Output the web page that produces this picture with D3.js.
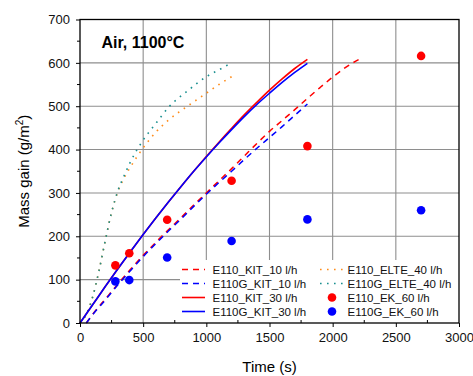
<!DOCTYPE html>
<meta charset="utf-8">
<style>
body { margin: 0; background: #fff; }
text { font-family: "Liberation Sans", Arial, sans-serif; }
</style>
<body>
<script src="https://cdn.jsdelivr.net/npm/d3@7"></script>
<script>
// --- data ---
var kit10Time   = [50, 100, 200, 300, 400, 500, 600, 700, 800, 900, 1000, 1100, 1200, 1300, 1400, 1500, 1600, 1700, 1800, 1900, 2000, 2100, 2220];
var e110Kit10   = [0, 20, 55, 90, 124, 156, 186, 215, 243, 272, 300, 328, 356, 385, 414, 442, 467, 492, 518, 543, 567, 589, 610];
var kit10GTime  = [50, 100, 200, 300, 400, 500, 600, 700, 800, 900, 1000, 1100, 1200, 1300, 1400, 1500, 1600, 1700, 1800];
var e110gKit10  = [0, 19, 53, 88, 121, 153, 183, 212, 240, 269, 297, 324, 350, 377, 403, 428, 453, 479, 505];

var kit30Time   = [0, 100, 200, 300, 400, 500, 600, 700, 800, 900, 1000, 1100, 1200, 1300, 1400, 1500, 1600, 1700, 1800];
var e110Kit30   = [0, 42, 84, 125, 165, 204, 242, 279, 315, 350, 384, 417, 449, 480, 509, 537, 563, 587, 608];
var e110gKit30  = [0, 42, 84, 125, 165, 204, 242, 279, 315, 350, 383, 415, 446, 476, 504, 530, 555, 578, 599];

var elteTime    = [0, 50, 100, 150, 200, 250, 300, 350, 400, 500, 600, 700, 850, 1000, 1100, 1200];
var e110Elte    = [0, 20, 60, 120, 190, 255, 303, 335, 360, 404, 440, 468, 500, 530, 550, 568];
var e110gElte   = [0, 20, 60, 120, 190, 255, 305, 340, 372, 422, 460, 497, 535, 568, 584, 600];

var ekTime      = [280, 390, 690, 1200, 1800, 2700];
var e110Ek      = [133, 161, 238, 328, 408, 616];
var e110gEk     = [96, 99, 151, 189, 239, 260];

var xTicks = [0, 500, 1000, 1500, 2000, 2500, 3000];
var yTicks = [0, 100, 200, 300, 400, 500, 600, 700];

var width = 473, height = 376;
var margin = {left: 80, right: 14, top: 19.5, bottom: 53};

var svg = d3.select("body").append("svg")
    .attr("width", width)
    .attr("height", height);

var x = d3.scaleLinear().domain([0, 3000]).range([margin.left, width - margin.right]);
var y = d3.scaleLinear().domain([0, 700]).range([height - margin.bottom, margin.top]);

// grid
svg.append("g").selectAll("line.vx")
    .data(xTicks.slice(1, -1)).enter().append("line")
    .attr("x1", d => x(d)).attr("x2", d => x(d))
    .attr("y1", y(0)).attr("y2", y(700))
    .attr("stroke", "#8e8e8e").attr("stroke-width", 1.1);
svg.append("g").selectAll("line.hy")
    .data(yTicks.slice(1, -1)).enter().append("line")
    .attr("x1", x(0)).attr("x2", x(3000))
    .attr("y1", d => y(d)).attr("y2", d => y(d))
    .attr("stroke", "#8e8e8e").attr("stroke-width", 1.1);

var line = d3.line().curve(d3.curveMonotoneX);
function pts(t, v) { return t.map((d, i) => [x(d), y(v[i])]); }

var g = svg.append("g");

function drawLine(t, v, color, dash, w) {
  g.append("path")
    .attr("d", line(pts(t, v)))
    .attr("fill", "none")
    .attr("stroke", color)
    .attr("stroke-width", w)
    .attr("stroke-dasharray", dash);
}

drawLine(elteTime, e110Elte, "#ff8c1a", "1.6,5.4", 1.6);
drawLine(elteTime, e110gElte, "#1a9090", "1.6,5.4", 1.6);
drawLine(kit10Time, e110Kit10, "#ff0000", "6,5", 1.5);
drawLine(kit10GTime, e110gKit10, "#0000ff", "6,5", 1.5);
drawLine(kit30Time, e110Kit30, "#ff0000", null, 1.6);
drawLine(kit30Time, e110gKit30, "#0000ff", null, 1.6);

g.selectAll("circle.r").data(ekTime).enter().append("circle")
  .attr("cx", d => x(d)).attr("cy", (d, i) => y(e110Ek[i]))
  .attr("r", 4.3).attr("fill", "#ff0000");
g.selectAll("circle.b").data(ekTime).enter().append("circle")
  .attr("cx", d => x(d)).attr("cy", (d, i) => y(e110gEk[i]))
  .attr("r", 4.3).attr("fill", "#0000ff");

// legend (white box over the grid)
svg.append("rect")
  .attr("x", 180).attr("y", 260)
  .attr("width", x(3000) - 180).attr("height", y(0) - 260)
  .attr("fill", "#fff");

var legend = [
  {name: "E110_KIT_10 l/h", color: "#ff0000", dash: "6,5", col: 0},
  {name: "E110G_KIT_10 l/h", color: "#0000ff", dash: "6,5", col: 0},
  {name: "E110_KIT_30 l/h", color: "#ff0000", dash: null, col: 0},
  {name: "E110G_KIT_30 l/h", color: "#0000ff", dash: null, col: 0},
  {name: "E110_ELTE_40 l/h", color: "#ff8c1a", dash: "1.6,5.4", col: 1},
  {name: "E110G_ELTE_40 l/h", color: "#1a9090", dash: "1.6,5.4", col: 1},
  {name: "E110_EK_60 l/h", color: "#ff0000", dot: true, col: 1},
  {name: "E110G_EK_60 l/h", color: "#0000ff", dot: true, col: 1}
];
var lg = svg.append("g");
legend.forEach(function(d, i) {
  var row = i % 4;
  var ly = 269.5 + row * 14;
  var lx = d.col === 0 ? 182 : 320;
  if (d.dot) {
    lg.append("circle").attr("cx", lx + 12).attr("cy", ly).attr("r", 4.3).attr("fill", d.color);
  } else {
    lg.append("line")
      .attr("x1", lx).attr("x2", lx + 23).attr("y1", ly).attr("y2", ly)
      .attr("stroke", d.color).attr("stroke-width", 1.6)
      .attr("stroke-dasharray", d.dash);
  }
  lg.append("text")
    .attr("x", d.col === 0 ? 212.5 : 347.5)
    .attr("y", ly + 4)
    .style("font-size", "11.5px")
    .attr("fill", "#111")
    .text(d.name);
});

// frame
svg.append("rect")
  .attr("x", x(0)).attr("y", y(700))
  .attr("width", x(3000) - x(0)).attr("height", y(0) - y(700))
  .attr("fill", "none").attr("stroke", "#000").attr("stroke-width", 1.3);

// axes
var xAxis = svg.append("g")
  .attr("transform", "translate(0," + y(0) + ")")
  .call(d3.axisBottom(x).tickValues(xTicks).tickFormat(d3.format("d")).tickSize(4).tickPadding(6));
var yAxis = svg.append("g")
  .attr("transform", "translate(" + x(0) + ",0)")
  .call(d3.axisLeft(y).tickValues(yTicks).tickFormat(d3.format("d")).tickSize(4).tickPadding(6));
[xAxis, yAxis].forEach(function(a) {
  a.select(".domain").remove();
  a.selectAll("text").style("font-size", "13px").attr("fill", "#111")
    .style("font-family", "'Liberation Sans', Arial, sans-serif");
  a.selectAll("line").attr("stroke", "#000");
});

// minor ticks
var xMinor = d3.range(250, 3000, 500);
var yMinor = d3.range(50, 700, 100);
svg.append("g").selectAll("line").data(xMinor).enter().append("line")
  .attr("x1", d => x(d)).attr("x2", d => x(d))
  .attr("y1", y(0)).attr("y2", y(0) - 3).attr("stroke", "#000");
svg.append("g").selectAll("line").data(yMinor).enter().append("line")
  .attr("x1", x(0) - 3).attr("x2", x(0))
  .attr("y1", d => y(d)).attr("y2", d => y(d)).attr("stroke", "#000");

// title & labels
svg.append("text")
  .attr("x", 101.5).attr("y", 47.5)
  .style("font-size", "16px").style("font-weight", "bold")
  .text("Air, 1100°C");

svg.append("text")
  .attr("x", (x(0) + x(3000)) / 2).attr("y", 372)
  .attr("text-anchor", "middle")
  .style("font-size", "15px")
  .text("Time (s)");

var yl = svg.append("text")
  .attr("transform", "translate(29," + ((y(0) + y(700)) / 2) + ") rotate(-90)")
  .attr("text-anchor", "middle")
  .style("font-size", "15px");
yl.append("tspan").text("Mass gain (g/m");
yl.append("tspan").attr("dy", -6).style("font-size", "10px").text("2");
yl.append("tspan").attr("dy", 6).text(")");
</script>
</body>
